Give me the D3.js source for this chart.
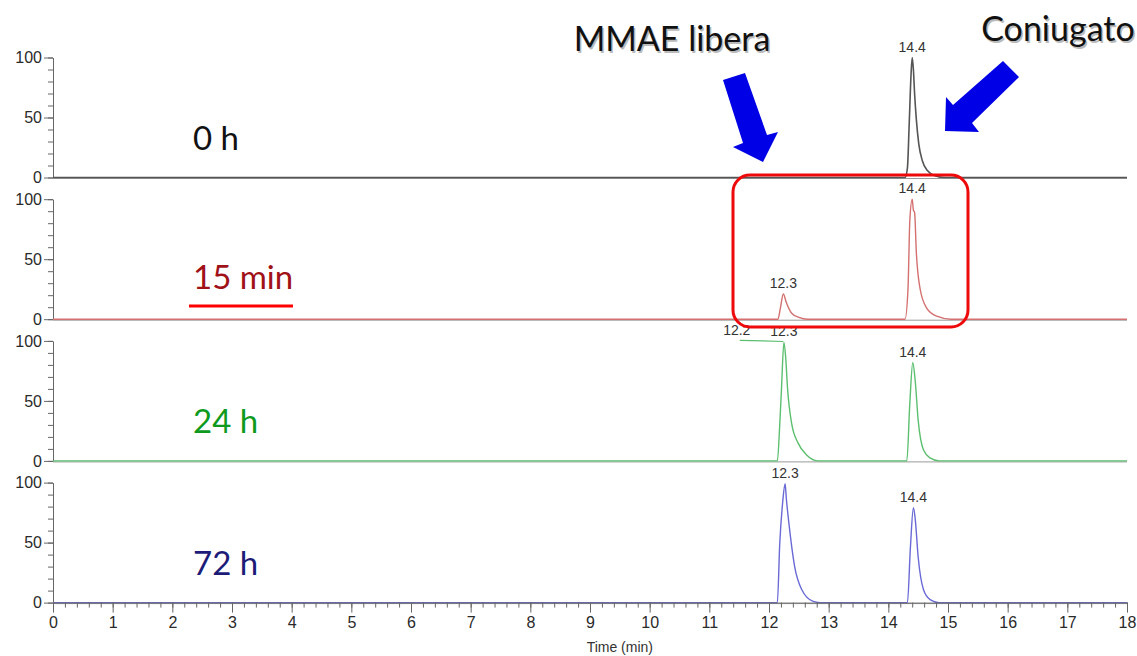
<!DOCTYPE html>
<html>
<head>
<meta charset="utf-8">
<script src="https://cdn.jsdelivr.net/npm/d3@7"></script>
<style>
  body { margin: 0; background: #fff; }
  svg { display: block; font-family: "Liberation Sans", Arial, sans-serif; }
</style>
</head>
<body>
<div id="chart"></div>
<script>
/* HPLC chromatograms: free MMAE vs conjugate over time */

// panel labels and trace colours
const panels = ["0 h", "15 min", "24 h", "72 h"];
const labelColors = ["#111111", "#a01218", "#0f9a1e", "#1c1c78"];
const traceColors = ["#555555", "#d47070", "#5cbf70", "#6a6ad6"];

// traces: [time (min), relative abundance]
const trace0h = [[0,0],[14.28,0],[14.32,8],[14.35,45],[14.38,85],[14.40,100],[14.42,90],[14.44,70],[14.47,48],[14.51,28],[14.57,14],[14.65,6],[14.78,1.5],[14.95,0],[18,0]];
const trace15m = [[0,0],[12.15,0],[12.19,9],[12.24,21],[12.29,14],[12.38,5],[12.50,1.5],[12.65,0],[14.28,0],[14.33,26],[14.36,82],[14.40,100],[14.42,91],[14.44,89],[14.47,55],[14.53,26],[14.64,9.5],[14.81,2.5],[15.05,0],[18,0]];
const trace24h = [[0,0],[12.14,0],[12.18,30],[12.21,61],[12.25,99],[12.28,86],[12.31,61],[12.38,31],[12.49,14.6],[12.63,5],[12.83,0],[14.31,0],[14.36,48],[14.41,82],[14.45,67],[14.50,34],[14.59,9],[14.70,2.5],[14.85,0],[18,0]];
const trace72h = [[0,0],[12.14,0],[12.18,49],[12.23,84],[12.27,99],[12.29,87],[12.35,59],[12.43,30],[12.55,10.7],[12.74,1],[12.85,0],[14.32,0],[14.37,46],[14.42,79],[14.45,70],[14.50,38],[14.59,10.7],[14.70,2.5],[14.85,0],[18,0]];
const traces = [trace0h, trace15m, trace24h, trace72h];

// peak retention-time labels: [panel, time, value, text]
const peakLabels = [
  [0, 14.40, 100, "14.4"],
  [1, 12.24, 21, "12.3"],
  [1, 14.40, 100, "14.4"],
  [2, 11.46, 100, "12.2"],
  [2, 12.25, 99, "12.3"],
  [2, 14.41, 82, "14.4"],
  [3, 12.27, 99, "12.3"],
  [3, 14.42, 79, "14.4"]
];

const xTicks = d3.range(0, 19);
const yTicks = [0, 50, 100];

const width = 1137, height = 656;
const margin = { left: 53, right: 10 };
const panelTop = 57.5, panelStep = 141.7, panelH = 120;

const svg = d3.select("#chart").append("svg")
  .attr("width", width).attr("height", height)
  .attr("viewBox", [0, 0, width, height]);

const x = d3.scaleLinear().domain([0, 18]).range([margin.left, width - margin.right]);

panels.forEach((name, i) => {
  const top = panelTop + i * panelStep;
  const y = d3.scaleLinear().domain([0, 100]).range([top + panelH, top]);
  const g = svg.append("g");

  // zero line of the panel
  g.append("line")
    .attr("x1", x(0)).attr("x2", x(18))
    .attr("y1", y(0) + 1).attr("y2", y(0) + 1)
    .attr("stroke", "#9a9a9a").attr("stroke-width", 1);

  // minor y ticks every 10
  g.append("g")
    .attr("transform", `translate(${x(0)},0)`)
    .call(d3.axisLeft(y).tickValues(d3.range(0, 101, 10)).tickSize(5).tickFormat(""))
    .call(a => a.select(".domain").remove())
    .call(a => a.selectAll("line").attr("stroke", "#666"));

  // major y ticks
  g.append("g")
    .attr("transform", `translate(${x(0)},0)`)
    .call(d3.axisLeft(y).tickValues(yTicks).tickSize(9).tickPadding(2).tickSizeOuter(0))
    .call(a => a.select(".domain").attr("stroke", "#666"))
    .call(a => a.selectAll("line").attr("stroke", "#666"))
    .call(a => a.selectAll("text").attr("fill", "#2a2a2a").attr("font-size", 16));

  // trace
  g.append("path")
    .datum(traces[i])
    .attr("fill", "none")
    .attr("stroke", traceColors[i])
    .attr("stroke-width", i === 0 ? 1.6 : 1.4)
    .attr("stroke-linejoin", "round")
    .attr("d", d3.line().curve(d3.curveMonotoneX).x(d => x(d[0])).y(d => y(d[1])));

  // sample label
  g.append("text")
    .attr("x", 193).attr("y", top + (i === 1 ? 90 : 92))
    .attr("fill", labelColors[i])
    .style("font-family", "Lato, 'Open Sans', sans-serif")
    .style("font-size", "33px")
    .text(name);

  // peak labels
  peakLabels.filter(p => p[0] === i).forEach(p => {
    g.append("text")
      .attr("x", x(p[1])).attr("y", y(p[2]) - 6)
      .attr("text-anchor", "middle")
      .attr("fill", "#333")
      .style("font-size", "14px")
      .text(p[3]);
  });

  // leader line for the 12.2 label in the 24 h run
  if (i === 2) {
    g.append("line")
      .attr("x1", x(11.51)).attr("x2", x(12.24))
      .attr("y1", y(100.5)).attr("y2", y(99.5))
      .attr("stroke", traceColors[i]).attr("stroke-width", 1.2);
  }

  // x axis on the last panel
  if (i === panels.length - 1) {
    svg.append("g")
      .attr("transform", `translate(0,${y(0)})`)
      .call(d3.axisBottom(x).tickValues(d3.range(0, 18.01, 0.2)).tickSize(5).tickFormat(""))
      .call(a => a.select(".domain").remove())
      .call(a => a.selectAll("line").attr("stroke", "#666"));
    svg.append("g")
      .attr("transform", `translate(0,${y(0)})`)
      .call(d3.axisBottom(x).tickValues(xTicks).tickSize(10).tickPadding(4).tickSizeOuter(0).tickFormat(d3.format("d")))
      .call(a => a.select(".domain").attr("stroke", "#666"))
      .call(a => a.selectAll("line").attr("stroke", "#666"))
      .call(a => a.selectAll("text").attr("fill", "#2a2a2a").attr("font-size", 16));
    svg.append("text")
      .attr("x", x(9.5)).attr("y", 652)
      .attr("text-anchor", "middle")
      .attr("fill", "#333")
      .style("font-size", "14px")
      .text("Time (min)");
  }
});

// underline under "15 min"
svg.append("line")
  .attr("x1", 189).attr("x2", 293).attr("y1", 306).attr("y2", 306)
  .attr("stroke", "#ff0000").attr("stroke-width", 3);

// red highlight box
svg.append("rect")
  .attr("x", 733).attr("y", 175).attr("width", 235).attr("height", 152)
  .attr("rx", 17).attr("ry", 17)
  .attr("fill", "none").attr("stroke", "#ee0a0a").attr("stroke-width", 3);

// blue arrows
const arrows = [
  [[723,80],[745,73],[767,135],[778,132],[763,162],[733,147],[743,143]],
  [[1003,61],[1019,77],[972,123],[979,132],[945,131],[946,97],[953,105]]
];
svg.selectAll(".arrow").data(arrows).join("polygon")
  .attr("class", "arrow")
  .attr("points", d => d.map(p => p.join(",")).join(" "))
  .attr("fill", "#0000e6");

// callout texts
const callouts = [["MMAE libera", 672, 51], ["Coniugato", 1058, 41]];
callouts.forEach(c => {
  [["#bbbbbb", 1.5], ["#111111", 0]].forEach(s => {
    svg.append("text")
      .attr("x", c[1] + s[1]).attr("y", c[2] + s[1])
      .attr("text-anchor", "middle")
      .attr("fill", s[0])
      .style("font-family", "Lato, 'Open Sans', sans-serif")
      .style("font-size", "34px")
      .text(c[0]);
  });
});
</script>
</body>
</html>
